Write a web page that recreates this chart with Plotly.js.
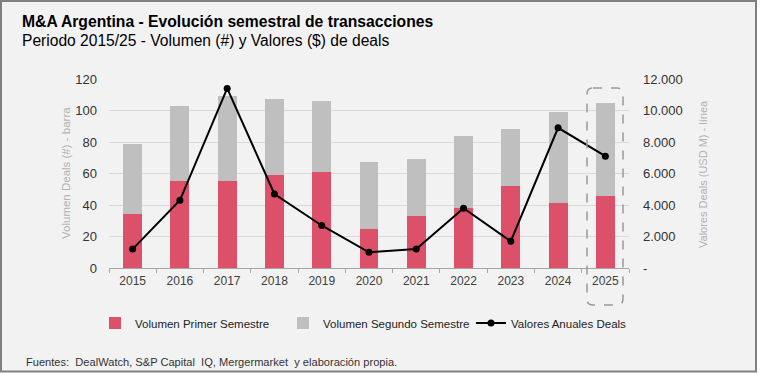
<!DOCTYPE html>
<html>
<head>
<meta charset="utf-8">
<script src="https://cdn.plot.ly/plotly-3.0.1.min.js"></script>
<style>html,body{margin:0;padding:0;background:#fff;}#chart{width:760px;height:374px;}</style>
</head>
<body>
<div id="chart"></div>
<script>
// ---- data ----
const years = ['2015','2016','2017','2018','2019','2020','2021','2022','2023','2024','2025'];
const primerSemestre = [34, 55, 55, 59, 61, 25, 33, 38, 52, 41, 46];
const segundoSemestre = [45, 48, 54, 48, 45, 42.5, 36.5, 46, 36, 58, 58.5];
const valoresAnuales = [1200, 4300, 11400, 4700, 2700, 1000, 1200, 3800, 1700, 8900, 7100];
const leftTicks = [0, 20, 40, 60, 80, 100, 120];
const rightTickVals = [0, 2000, 4000, 6000, 8000, 10000, 12000];
const rightTickText = ['-', '2.000', '4.000', '6.000', '8.000', '10.000', '12.000'];
const seriesNames = ['Volumen Primer Semestre', 'Volumen Segundo Semestre', 'Valores Anuales Deals'];
const titleText = 'M&A Argentina - Evolución semestral de transacciones';
const subtitleText = 'Periodo 2015/25 - Volumen (#) y Valores ($) de deals';
const leftAxisTitle = 'Volumen Deals (#) - barra';
const rightAxisTitle = 'Valores Deals (USD M) - línea';
const sourceText = 'Fuentes:  DealWatch, S&P Capital  IQ, Mergermarket  y elaboración propia.';

// ---- geometry ----
const W = 760, H = 374;
const M = {l: 109, r: 131, t: 79, b: 106};
const PW = W - M.l - M.r, PH = H - M.t - M.b;
const px = x => (x - M.l) / PW;
const py = y => (H - M.b - y) / PH;

const base = 'Liberation Sans, Arial, sans-serif';
const RED = '#dc5169', GRAY = '#bfbfbf';

const traces = [
  {type: 'bar', x: years, y: primerSemestre, name: seriesNames[0], marker: {color: RED}, yaxis: 'y', hoverinfo: 'skip'},
  {type: 'bar', x: years, y: segundoSemestre, name: seriesNames[1], marker: {color: GRAY}, yaxis: 'y', hoverinfo: 'skip'},
  {type: 'scatter', mode: 'lines+markers', x: years, y: valoresAnuales, name: seriesNames[2], yaxis: 'y2',
   line: {color: '#000', width: 2}, marker: {color: '#000', size: 7}, hoverinfo: 'skip'}
];

// rounded dashed box around last category
function roundedBox(x0, y0, x1, y1, r) {
  const X = px, Y = py;
  return 'M' + X(x0 + r) + ',' + Y(y0) +
    ' L' + X(x1 - r) + ',' + Y(y0) +
    ' Q' + X(x1) + ',' + Y(y0) + ' ' + X(x1) + ',' + Y(y0 + r) +
    ' L' + X(x1) + ',' + Y(y1 - r) +
    ' Q' + X(x1) + ',' + Y(y1) + ' ' + X(x1 - r) + ',' + Y(y1) +
    ' L' + X(x0 + r) + ',' + Y(y1) +
    ' Q' + X(x0) + ',' + Y(y1) + ' ' + X(x0) + ',' + Y(y1 - r) +
    ' L' + X(x0) + ',' + Y(y0 + r) +
    ' Q' + X(x0) + ',' + Y(y0) + ' ' + X(x0 + r) + ',' + Y(y0) + ' Z';
}

const layout = {
  width: W, height: H,
  margin: M,
  paper_bgcolor: '#ffffff',
  plot_bgcolor: 'rgba(0,0,0,0)',
  font: {family: base, color: '#404040'},
  showlegend: true,
  barmode: 'stack',
  bargap: 0.6,
  title: {text: '<b>' + titleText + '</b>', x: 22 / W, xanchor: 'left', xref: 'container',
          y: 1 - 22 / H, yanchor: 'middle', yref: 'container',
          font: {family: base, size: 15.7, color: '#000'}},
  xaxis: {
    type: 'category', range: [-0.5, 10.5],
    showline: true, linecolor: '#a6a6a6', linewidth: 1,
    ticks: 'outside', tickson: 'boundaries', ticklen: 4, tickcolor: '#a6a6a6',
    showgrid: false, zeroline: false, ticklabelstandoff: 2,
    tickfont: {family: base, size: 12, color: '#404040'}, fixedrange: true
  },
  yaxis: {
    range: [0, 120], tickvals: leftTicks, showgrid: true, gridcolor: '#d9d9d9', gridwidth: 1,
    zeroline: false, showline: false, ticks: '', ticklabelstandoff: 11,
    tickfont: {family: base, size: 13, color: '#333333'}, fixedrange: true
  },
  yaxis2: {
    range: [0, 12000], overlaying: 'y', side: 'right', tickvals: rightTickVals, ticktext: rightTickText,
    showgrid: false, zeroline: false, showline: false, ticks: '', ticklabelstandoff: 13,
    tickfont: {family: base, size: 13, color: '#333333'}, fixedrange: true
  },
  legend: {orientation: 'h', x: px(95), xanchor: 'left', y: py(323), yanchor: 'middle',
           font: {family: base, size: 11.5, color: '#222'}, bgcolor: 'rgba(0,0,0,0)',
           traceorder: 'normal', itemwidth: 30, entrywidth: 143, entrywidthmode: 'pixels'},
  shapes: [
    {type: 'rect', xref: 'paper', yref: 'paper', x0: px(1), x1: px(756), y0: py(1), y1: py(371.5),
     fillcolor: '#f2f2f2', line: {color: '#808080', width: 2}, layer: 'below'},
    {type: 'path', xref: 'paper', yref: 'paper', path: roundedBox(587, 88, 623, 305, 6),
     line: {color: '#999999', width: 1.5, dash: 'dash'}, layer: 'above'}
  ],
  annotations: [
    {text: subtitleText, xref: 'paper', yref: 'paper', x: px(20), y: py(40), xanchor: 'left', yanchor: 'middle',
     showarrow: false, font: {family: base, size: 15.6, color: '#000'}},
    {text: leftAxisTitle, xref: 'paper', yref: 'paper', x: px(66), y: py(173), xanchor: 'center', yanchor: 'middle',
     textangle: -90, showarrow: false, font: {family: base, size: 11.5, color: '#b3b3b3'}},
    {text: rightAxisTitle, xref: 'paper', yref: 'paper', x: px(703), y: py(174), xanchor: 'center', yanchor: 'middle',
     textangle: -90, showarrow: false, font: {family: base, size: 11, color: '#b3b3b3'}},
    {text: sourceText, xref: 'paper', yref: 'paper', x: px(24), y: py(362), xanchor: 'left', yanchor: 'middle',
     showarrow: false, font: {family: base, size: 11.1, color: '#333'}}
  ]
};

Plotly.newPlot('chart', traces, layout, {displayModeBar: false, staticPlot: true});
</script>
</body>
</html>
